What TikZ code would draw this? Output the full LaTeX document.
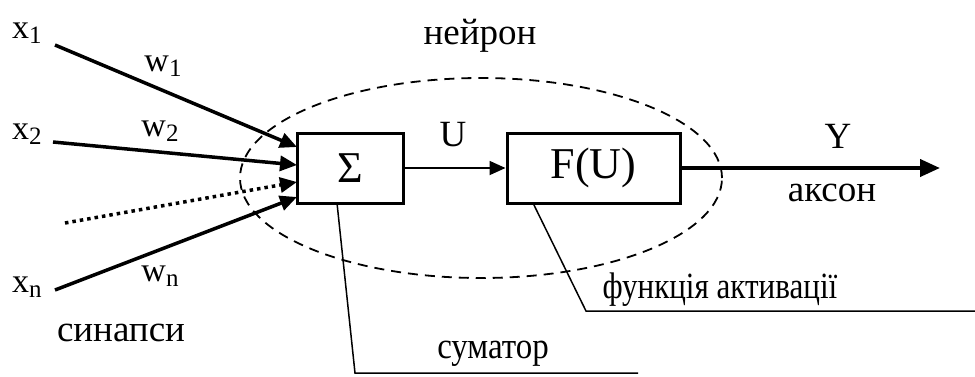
\documentclass[tikz,border=0pt]{standalone}
\usepackage{fontspec}
\setmainfont{Liberation Serif}
\usetikzlibrary{arrows.meta,shapes.geometric}
\newcommand\mysub[1]{\raisebox{-5pt}{\fontsize{25}{25}\selectfont #1}}
\begin{document}
\begin{tikzpicture}[x=1pt,y=-1pt,
  lbl/.style={font=\fontsize{37}{40}\selectfont, inner sep=0pt},
  var/.style={font=\fontsize{34}{36}\selectfont, inner sep=0pt},
  blk/.style={draw, line width=3pt, minimum height=70pt, inner sep=0pt, font=\fontsize{44}{46}\selectfont},
  inarrow/.style={line width=3.5pt, -{Triangle[length=17pt,width=15pt]}},
  leader/.style={line width=1.5pt},
  tip/.style={-{Triangle[length=16pt,width=14pt]}}]
\useasboundingbox (0,0) rectangle (975,376);
% neuron ellipse
\node[ellipse, draw, dashed, dash pattern=on 10pt off 7pt, line width=1.8pt,
      minimum width=482pt, minimum height=200pt] (neuron) at (481,178) {};
\node[lbl] (neuronlbl) at (480,36) {нейрон};
% blocks
\node[blk, minimum width=106pt] (sum) at (350,168) {Σ};
\node[blk, minimum width=173pt] (act) at (593.5,168) {F(U)};
% inputs
\node[var] (x1) at (27,33) {x\mysub{1}};
\node[var] (x2) at (27,134) {x\mysub{2}};
\node[var] (xn) at (27,287) {x\mysub{n}};
\coordinate (s1) at (55,45);
\coordinate (s2) at (53,142);
\coordinate (s3) at (65,223);
\coordinate (s4) at (55,290);
\coordinate (t1) at (297,147);
\coordinate (t2) at (297,165);
\coordinate (t3) at (297,182);
\coordinate (t4) at (297,197);
\draw[inarrow] (s1) -- (t1);
\draw[inarrow] (s2) -- (t2);
\draw[inarrow, dash pattern=on 3.5pt off 4pt] (s3) -- (t3);
\draw[inarrow] (s4) -- (t4);
\node[var] (w1) at (163,66) {w\mysub{1}};
\node[var] (w2) at (160,131) {w\mysub{2}};
\node[var] (wn) at (160,276) {w\mysub{n}};
\node[lbl] (syn) at (121,333) {синапси};
% internal connection
\draw[line width=1.8pt, tip] (sum.east) -- (act.west);
\node[lbl] (ulbl) at (453,135) {U};
% output
\coordinate (yend) at (940,168);
\draw[line width=4pt, -{Triangle[length=20pt,width=17pt]}] (act.east) -- (yend);
\node[lbl] (ylbl) at (838,136) {Y};
\node[lbl] (axon) at (832,193) {аксон};
% leaders
\coordinate (l1a) at (337,203);
\coordinate (l1b) at (355,373);
\coordinate (l1c) at (638,373);
\draw[leader] (l1a) -- (l1b) -- (l1c);
\node[lbl] (sumlbl) at (493,354) {\scalebox{0.89}[1]{суматор}};
\coordinate (l2a) at (533,203);
\coordinate (l2b) at (586,311);
\coordinate (l2c) at (975,311);
\draw[leader] (l2a) -- (l2b) -- (l2c);
\node[lbl] (actlbl) at (720,290) {\scalebox{0.84}[1]{функція активації}};
\end{tikzpicture}
\end{document}
